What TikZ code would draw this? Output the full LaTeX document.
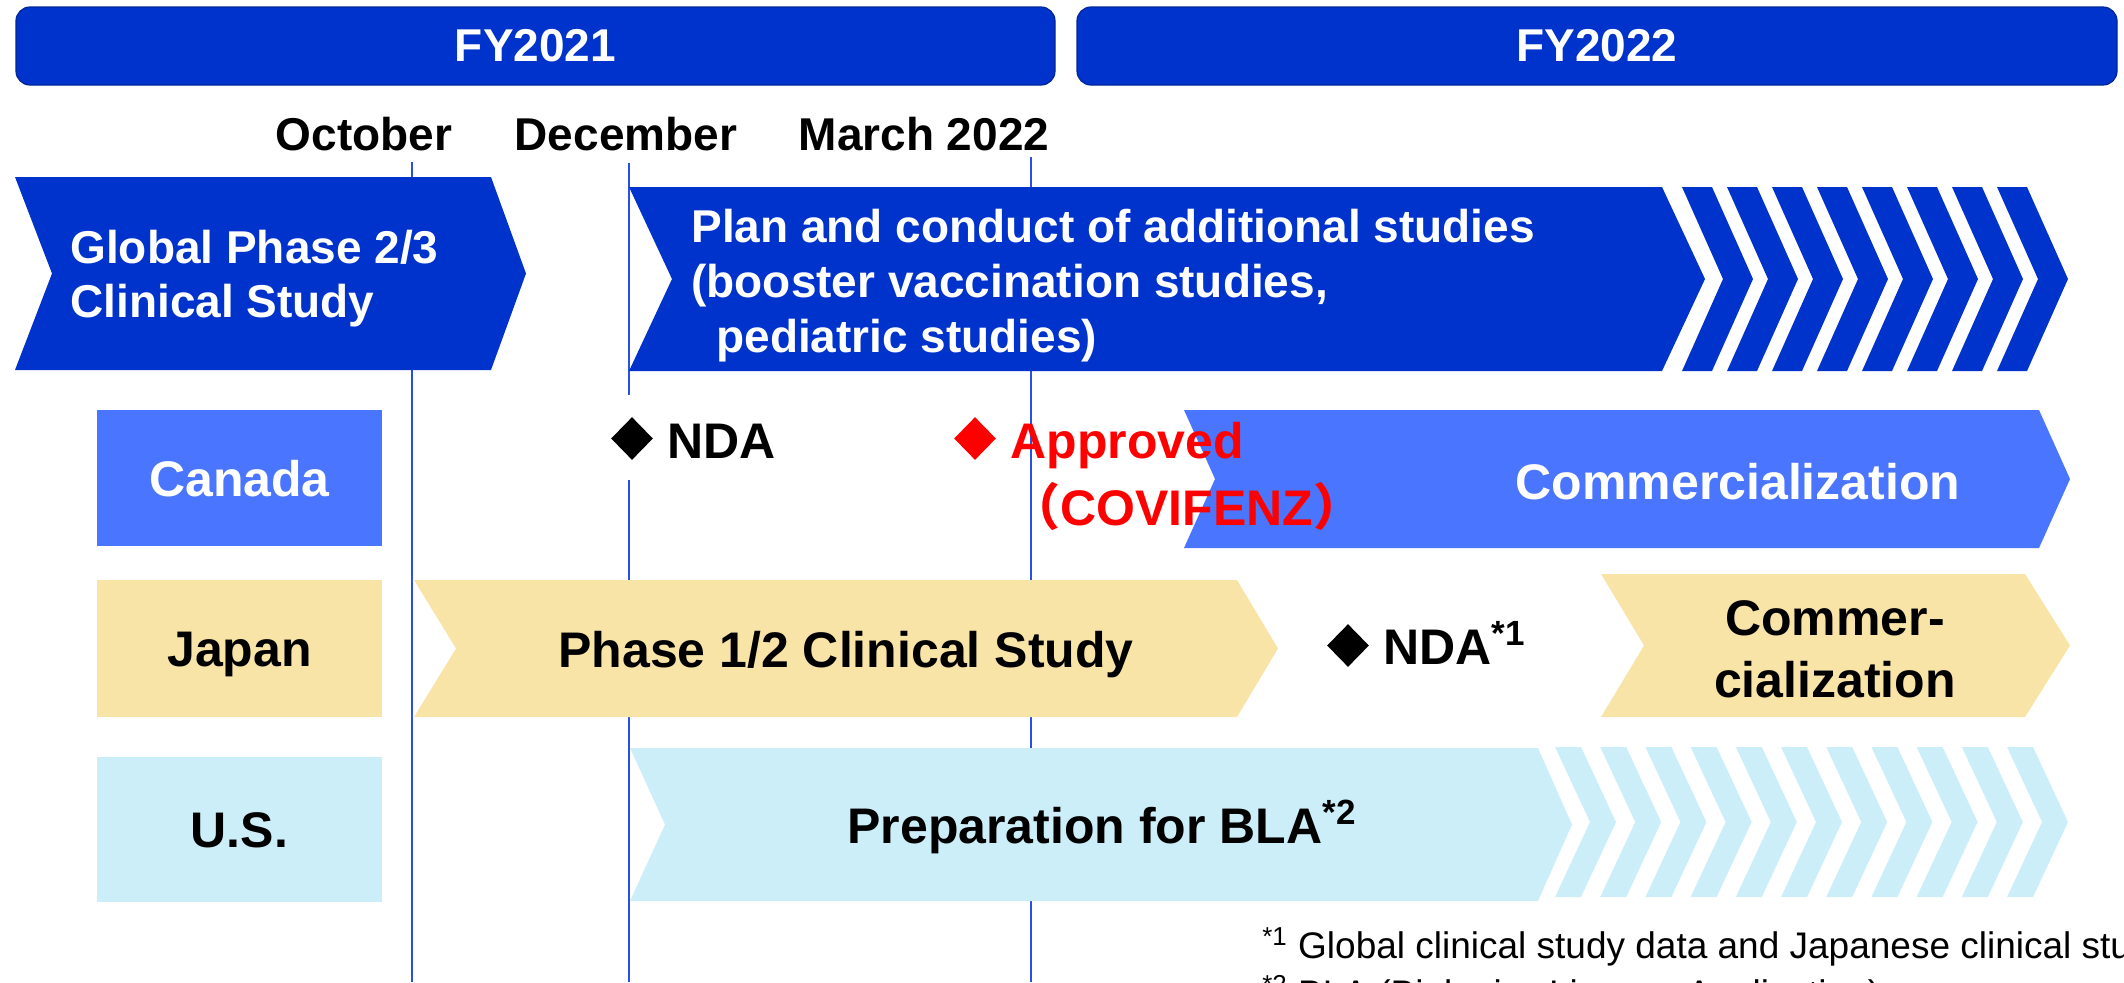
\documentclass[tikz,border=0pt]{standalone}
\usepackage{fontspec}
\setmainfont{Liberation Sans}
\newfontfamily\cjkfont{Noto Sans CJK JP}
\usetikzlibrary{shapes.geometric}

\definecolor{fyblue}{RGB}{0,51,204}
\definecolor{cablue}{RGB}{74,117,255}
\definecolor{jpyellow}{RGB}{248,228,167}
\definecolor{uscyan}{RGB}{204,238,248}
\definecolor{guideblue}{RGB}{40,80,230}

% fill colour, x left, x right, y top, y bottom, notch, tip
\newcommand{\ribbon}[7]{%
  \fill[#1] (#2,#4) -- (#3,#4) -- ({#3+#7},{(#4+#5)/2}) -- (#3,#5) -- (#2,#5) -- ({#2+#6},{(#4+#5)/2}) -- cycle;}

\begin{document}
\begin{tikzpicture}[x=0.5pt,y=-0.5pt,
    fybar/.style={rounded corners=7pt, fill=fyblue, draw=fyblue!75!black, line width=0.6pt,
      text=white, font=\bfseries\fontsize{23}{27}\selectfont},
    month/.style={anchor=base, inner sep=0pt, font=\bfseries\fontsize{23}{27}\selectfont},
    country/.style={minimum width=142.5pt, inner sep=0pt, text height=18pt, text depth=0pt,
      font=\bfseries\fontsize{25}{30}\selectfont},
    big/.style={inner sep=0pt, font=\bfseries\fontsize{25}{30}\selectfont},
    mid/.style={inner sep=0pt, font=\bfseries\fontsize{23}{27}\selectfont},
    milestone/.style={diamond, fill, inner sep=0pt, minimum width=21pt, minimum height=21.5pt},
    guide/.style={draw=guideblue, line width=0.8pt},
    note/.style={inner sep=0pt, anchor=base west, font=\fontsize{18.5}{22}\selectfont}]

    \useasboundingbox (0,0) rectangle (2124,982);
    \clip (0,0) rectangle (2124,982);

    % fiscal years
    \node[fybar, minimum width=519.5pt, minimum height=39pt] (fy21) at (535.5,46) {FY2021};
    \node[fybar, minimum width=520pt, minimum height=39pt] (fy22) at (1597,46) {FY2022};

    \node[month] (oct) at (364,150) {October};
    \node[month] (dec) at (626,150) {December};
    \node[month] (mar) at (924,150) {March 2022};

    \draw[guide] (412,162) -- (412,982);
    \draw[guide] (629,163) -- (629,395);
    \draw[guide] (629,480) -- (629,982);
    \draw[guide] (1031,157) -- (1031,982);

    % global studies
    \ribbon{fyblue}{15}{491}{177}{370}{37}{35}
    \ribbon{fyblue}{629}{1662}{187}{371}{43}{43}
    \foreach \i in {0,...,7}{\ribbon{fyblue}{1682+45*\i}{1712+45*\i}{187}{371}{41}{41}}

    % countries
    \ribbon{cablue}{1184}{2039}{410}{548}{31}{31}
    \ribbon{jpyellow}{414}{1237}{580}{717}{42}{41}
    \ribbon{jpyellow}{1601}{2025}{574}{717}{43}{45}
    \ribbon{uscyan}{630}{1538}{748}{901}{35}{34}
    \foreach \i in {0,...,10}{\ribbon{uscyan}{1555+45.2*\i}{1581+45.2*\i}{747}{897}{35}{35}}

    \node[country, fill=cablue, text=white, minimum height=68pt] (canada) at (239.5,478) {Canada};
    \node[country, fill=jpyellow, minimum height=68.5pt] (japan) at (239.5,648.5) {Japan};
    \node[country, fill=uscyan, minimum height=72.5pt] (us) at (239.5,829.5) {U.S.};

    % multi-line nodes: base is the last line
    \node[mid, text=white, align=left, anchor=base west] (global) at (70,317)
      {Global Phase 2/3\\Clinical Study};
    \node[mid, text=white, align=left, anchor=base west, font=\bfseries\fontsize{23}{27.5}\selectfont]
      (plan) at (691,352)
      {Plan and conduct of additional studies\\(booster vaccination studies,\\\hspace*{12.5pt}pediatric studies)};

    \node[big, text=white, anchor=base] (comCa) at (1738,499) {Commercialization};
    \node[big, anchor=base] (phase) at (846,667) {Phase 1/2 Clinical Study};
    \node[big, align=center, anchor=base, font=\bfseries\fontsize{25}{31}\selectfont] (comJp) at (1835,697)
      {Commer-\\cialization};
    \node[big, anchor=base west] (prep) at (847,843) {Preparation for BLA\textsuperscript{*2}};

    % milestones
    \node[milestone] (dNdaCa) at (632,438.5) {};
    \node[big, anchor=base west] (ndaCa) at (667,458) {NDA};
    \node[milestone, red] (dAppr) at (975,438.5) {};
    \node[big, text=red, align=left, anchor=base west, font=\bfseries\fontsize{25}{33.5}\selectfont]
      (appr) at (1010,525) {Approved\\{\cjkfont （}COVIFENZ{\cjkfont ）}};
    \node[milestone] (dNdaJp) at (1348,645.5) {};
    \node[big, anchor=base west] (ndaJp) at (1383,664) {NDA\textsuperscript{*1}};

    % footnotes
    \node[note] (fn1) at (1262,958) {\textsuperscript{*1} Global clinical study data and Japanese clinical stu};
    \node[note] (fn2) at (1262,1006) {\textsuperscript{*2} BLA (Biologics License Application)};
\end{tikzpicture}
\end{document}
